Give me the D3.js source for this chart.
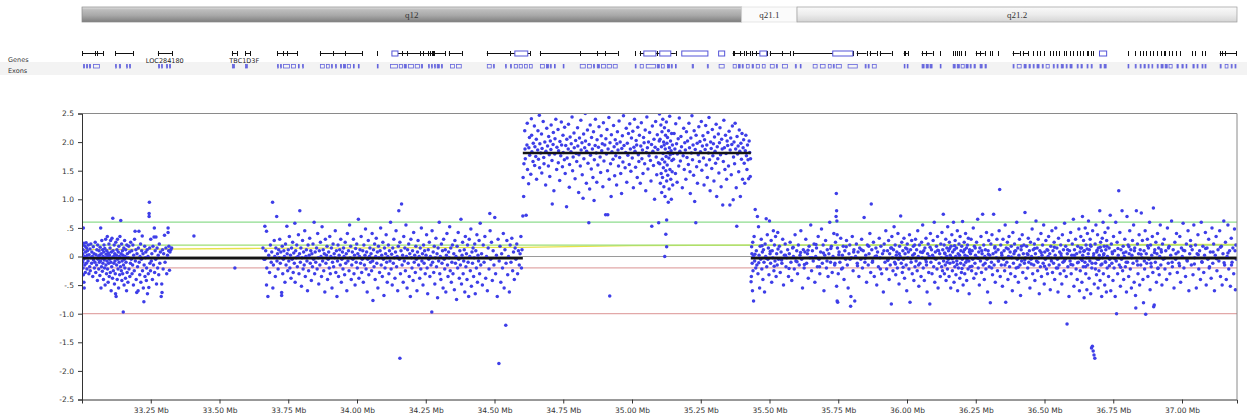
<!DOCTYPE html>
<html><head><meta charset="utf-8">
<script src="https://cdn.jsdelivr.net/npm/d3@7"></script>
<style>
html,body{margin:0;padding:0;background:#fff;}
svg{display:block;}
</style></head><body>
<svg id="chart" width="1247" height="417"></svg>
<script>
// ---- genomic window (Mb) ----
const windowStartMb = 33.0;
const windowEndMb = 37.2;

// ---- cytoband ideogram ----
const bandNames = ["q12", "q21.1", "q21.2"];
const bandStarts = [33.0, 35.399, 35.600];
const bandEnds = [35.399, 35.600, 37.2];

// ---- gene track (Mb) ----
const geneSpans = [[33.000,33.076],[33.120,33.185],[33.276,33.327],[33.545,33.563],[33.593,33.611],[33.709,33.782],[33.865,33.912],[33.912,34.018],[34.127,34.229],[34.229,34.276],[34.280,34.320],[34.334,34.381],[34.472,34.629],[34.665,34.948],[35.028,35.159],[35.366,35.406],[35.414,35.428],[35.435,35.490],[35.501,35.574],[35.585,35.803],[35.817,35.853],[35.864,35.890],[35.901,35.944],[35.988,36.003],[36.053,36.093],[36.250,36.282],[36.384,36.410],[36.421,36.440],[37.137,37.198]];
const geneMarks = [33.047,33.055,33.731,33.745,33.956,34.072,34.163,34.181,34.240,34.258,34.265,34.272,34.556,34.630,34.665,34.810,34.872,34.901,35.010,35.090,35.370,35.392,35.450,35.545,35.992,36.068,36.119,36.166,36.173,36.181,36.188,36.195,36.210,36.264,36.301,36.308,36.330,36.457,36.471,36.482,36.497,36.519,36.530,36.541,36.551,36.570,36.580,36.591,36.602,36.617,36.628,36.639,36.653,36.660,36.668,36.675,36.802,36.828,36.846,36.860,36.868,36.882,36.893,36.908,36.922,36.933,36.940,36.951,36.962,36.980,36.991,37.038,37.046,37.071,37.082,37.144,37.155];
const geneBoxes = [[34.127,34.149],[34.574,34.621],[35.043,35.087],[35.101,35.141],[35.181,35.276],[35.315,35.337],[35.465,35.490],[35.730,35.803],[36.700,36.726]];
const geneLabels = [{name:"LOC284180", at:33.301}, {name:"TBC1D3F", at:33.590}];

// ---- exon track (Mb) ----
const exonSpans = [[33.004,33.011],[33.015,33.022],[33.025,33.033],[33.040,33.065],[33.120,33.124],[33.134,33.142],[33.160,33.164],[33.171,33.178],[33.276,33.284],[33.287,33.294],[33.305,33.313],[33.316,33.324],[33.545,33.556],[33.593,33.603],[33.709,33.712],[33.720,33.723],[33.731,33.756],[33.760,33.778],[33.785,33.789],[33.800,33.803],[33.865,33.883],[33.887,33.901],[33.905,33.912],[33.920,33.923],[33.938,33.945],[33.949,33.960],[33.963,33.978],[33.985,33.989],[34.003,34.007],[34.072,34.076],[34.120,34.149],[34.152,34.167],[34.170,34.181],[34.185,34.207],[34.210,34.229],[34.232,34.240],[34.258,34.261],[34.269,34.272],[34.280,34.283],[34.290,34.301],[34.305,34.312],[34.338,34.356],[34.360,34.381],[34.472,34.490],[34.494,34.501],[34.538,34.541],[34.556,34.563],[34.570,34.585],[34.588,34.603],[34.607,34.621],[34.625,34.639],[34.665,34.683],[34.687,34.698],[34.701,34.708],[34.716,34.719],[34.748,34.752],[34.810,34.832],[34.836,34.854],[34.858,34.865],[34.872,34.883],[34.887,34.905],[34.908,34.927],[34.930,34.948],[35.010,35.014],[35.028,35.043],[35.050,35.087],[35.090,35.101],[35.105,35.119],[35.127,35.138],[35.141,35.148],[35.156,35.159],[35.217,35.225],[35.272,35.279],[35.315,35.337],[35.366,35.381],[35.385,35.395],[35.399,35.406],[35.414,35.428],[35.435,35.443],[35.450,35.465],[35.472,35.486],[35.501,35.519],[35.523,35.530],[35.545,35.567],[35.592,35.599],[35.610,35.614],[35.657,35.675],[35.683,35.704],[35.712,35.726],[35.730,35.737],[35.741,35.763],[35.784,35.821],[35.846,35.853],[35.857,35.864],[35.872,35.890],[35.988,35.992],[35.999,36.003],[36.053,36.064],[36.068,36.079],[36.082,36.093],[36.119,36.122],[36.166,36.177],[36.181,36.192],[36.195,36.210],[36.213,36.224],[36.228,36.235],[36.242,36.250],[36.264,36.275],[36.282,36.290],[36.384,36.391],[36.399,36.417],[36.424,36.435],[36.442,36.450],[36.457,36.464],[36.471,36.482],[36.490,36.497],[36.504,36.519],[36.530,36.537],[36.544,36.551],[36.559,36.570],[36.577,36.584],[36.591,36.602],[36.617,36.624],[36.631,36.639],[36.653,36.660],[36.668,36.675],[36.700,36.708],[36.715,36.726],[36.802,36.806],[36.828,36.835],[36.846,36.853],[36.860,36.868],[36.875,36.882],[36.889,36.893],[36.908,36.915],[36.922,36.933],[36.937,36.948],[36.951,36.966],[36.980,36.988],[36.998,37.006],[37.013,37.017],[37.038,37.046],[37.053,37.060],[37.071,37.078],[37.082,37.089],[37.137,37.144],[37.155,37.169],[37.177,37.184],[37.191,37.198]];

// ---- axis ticks ----
const yTickValues = [2.5, 2.0, 1.5, 1.0, 0.5, 0, -0.5, -1.0, -1.5, -2.0, -2.5];
const yTickLabels = ["2.5", "2.0", "1.5", "1.0", ".5", "0", "-.5", "-1.0", "-1.5", "-2.0", "-2.5"];
const xTickValues = [33.25, 33.5, 33.75, 34.0, 34.25, 34.5, 34.75, 35.0, 35.25, 35.5, 35.75, 36.0, 36.25, 36.5, 36.75, 37.0];
const xTickLabels = ["33.25 Mb","33.50 Mb","33.75 Mb","34.00 Mb","34.25 Mb","34.50 Mb","34.75 Mb","35.00 Mb","35.25 Mb","35.50 Mb","35.75 Mb","36.00 Mb","36.25 Mb","36.50 Mb","36.75 Mb","37.00 Mb"];

// ---- reference / threshold lines (log2 ratio) ----
const gainOuter = 0.6;
const gainInner = 0.2;
const lossInner = -0.2;
const lossOuter = -1.0;
const trendMb = [33.0, 33.6, 34.6, 35.0, 35.45, 37.2];
const trendVal = [0.12, 0.14, 0.16, 0.19, 0.2, 0.21];

// ---- segment calls: [start Mb, end Mb, mean log2 ratio] ----
const segStarts = [33.0, 34.603, 35.432];
const segEnds = [34.603, 35.432, 37.2];
const segMeans = [-0.03, 1.81, -0.03];

// ---- probes: [kb from window start, log2 ratio] ----
const probesA = [[2,.2],[3,.05],[3,-.1],[4,-.2],[4,.12],[5,-.32],[5,.5],[6,-.05],[7,.23],[7,-.45],[8,-.55],[9,.0],[10,-.15],[11,.18],[12,-.28],[13,.08],[14,-.02],[15,.24],[16,-.12],[17,.15],[18,-.22],[19,.02],[20,.1],
[22,-.08],[23,.2],[25,-.3],[26,.03],[28,-.18],[29,.13],[30,-.25],[32,.22],[33,-.02],[35,-.12],[36,.08],[38,.0],[39,-.35],[41,.17],[42,-.06],[44,.05],[45,-.2],[47,-.1],[48,.25],[50,-.28],[51,.03],[53,-.15],[54,.12],[56,-.42],[57,.2],[58,-.05],[60,.0],
[61,-.22],[62,.1],[63,-.1],[64,.02],[65,-.33],[66,.16],[67,-.08],[68,.5],[69,-.55],[70,.05],[71,-.18],[72,.28],[73,-.03],[74,-.26],[75,.12],[76,-.12],[77,.0],[78,-.4],[79,.08],[80,.2],[81,-.06],[82,-.2],[83,.14],[84,-.5],[85,-.02],[86,.3],[87,-.15],[88,.04],[89,-.3],[90,.1],[91,-.08],[92,.35],[93,-.22],[94,.0],[95,-.45],[96,.06],[97,-.12],[98,.22],[99,-.35],[100,.02],[101,-.05],[102,.15],[103,-.28],[104,.28],[105,-.1],[106,-.6],[107,.08],[108,-.18],[109,.32],[110,-.02],[111,-.38],[112,.67],[113,.1],[114,-.25],[115,.0],[116,-.12],[117,.2],[118,-.48],[119,.05],[120,-.08],
[121,-.3],[122,-.65],[123,.25],[124,-.7],[125,.02],[126,-.15],[127,.12],[128,-.4],[129,.3],[130,-.05],[131,-.22],[132,.08],[133,-.55],[134,.18],[135,-.1],[136,.0],[137,-.32],[138,.35],[139,-.02],[140,-.18],[141,.63],[142,.05],[143,-.25],[144,.22],[145,-.42],[146,-.08],[147,.1],[148,-.3],[149,.02],[150,-.97],[151,-.15],[152,.15],[153,-.5],[154,-.05],[155,.28],[156,-.2],[157,.0],[158,-.38],[159,.12],[160,-.1],[162,-.6],[163,.2],[164,-.28],[165,.05],[167,-.45],[168,-.02],[170,.18],[171,-.22],[173,.08],[174,-.35],[176,-.12],[177,.25],[179,-.05],
[181,.1],[182,-.3],[184,-.15],[185,.2],[187,-.5],[188,.02],[190,-.25],[191,.3],[193,.44],[194,-.08],[196,.12],[197,-.4],[199,-.63],[200,.05],[202,-.18],[204,-.6],[205,.15],[207,.44],[208,-.1],[210,-.32],[211,.0],[213,.22],[214,-.45],[216,-.05],[217,.1],[219,.36],[220,-.25],[222,.05],[223,-.55],[225,-.79],[226,-.15],[228,.18],[229,-.35],[231,-.02],[232,.08],[234,-.42],[235,-.2],[237,.12],[238,-.65],[240,.0],[241,-.3],[243,-.54],[244,.75],[244,.7],[245,.95],[246,.15],[247,-.12],[249,-.25],[250,.3],
[252,-.08],[254,.05],[256,-.4],[258,.18],[260,-.15],[262,.34],[263,.5],[264,-.28],[266,.1],[268,-.05],[269,.34],[271,-.48],[273,.15],[275,-.2],[277,.02],[279,-.32],[281,.22],[283,-.12],[285,.08],[288,-.7],[290,-.48],[291,-.63],[293,.12],[295,-.22],[297,.05],[300,.37],[302,-.1],[305,.15],[308,-.3],[311,.02],[313,.5],[313,.42],[315,.1],[316,.18],[318,-.24],[320,.08],[323,.12],[326,.15],
[407,.36],[556,-.2]];

const probesB = [[658,.15],[662,-.05],[665,.53],[665,-.05],[668,.1],[671,.44],[671,-.5],[672,-.2],[676,-.7],[679,.02],[682,-.28],[685,.2],[688,-.1],[690,.08],[693,.95],[694,-.55],[696,-.15],[699,.28],[701,.0],[703,-.35],[705,.15],[708,.7],[709,-.08],[711,.05],[713,-.22],[715,.12],[717,-.02],[719,.3],[721,-.12],[723,.08],[726,-.68],[726,-.63],[728,.18],[730,-.3],[732,-.05],[734,.1],[736,.0],[738,-.45],[740,.22],[742,-.15],[745,.53],[746,.05],[748,-.25],[750,.12],
[752,-.08],[754,.35],[756,-.2],[758,.02],[760,-.38],[762,.15],[764,-.05],[766,.25],[768,-.28],[770,.06],[772,-.12],[774,.58],[775,-.45],[777,.1],[779,-.02],[781,.2],[783,-.18],[785,.0],[787,.38],[789,-.3],[791,.05],[792,.8],[794,-.1],[796,.15],[798,-.52],[800,-.02],[802,.28],[804,-.22],[806,.08],[808,-.15],[810,.45],[812,-.35],[814,.0],[816,.12],[818,-.08],[820,-.6],[822,.2],[824,-.25],[826,.02],[828,.32],[830,-.12],[832,.1],[834,-.42],[836,.05],[838,-.18],[840,.22],[842,-.05],[844,.6],[846,-.3],[848,.08],[850,-.1],
[853,.15],[855,-.22],[857,.4],[859,-.02],[861,-.48],[863,.1],[865,-.15],[867,.25],[869,.0],[871,-.35],[873,.52],[875,-.08],[877,.12],[879,-.25],[881,.05],[883,-.62],[885,.3],[887,-.12],[889,.02],[891,.18],[893,-.4],[895,-.05],[897,.08],[899,-.2],[901,.35],[903,-.3],[905,.0],[907,.15],[909,-.55],[911,-.1],[913,.22],[915,-.18],[917,.05],[919,-.02],[921,.45],[923,-.28],[925,.1],[927,-.7],[929,-.08],[931,.2],[933,-.35],[935,.02],[937,.12],[939,-.15],[941,.3],[943,-.45],[945,-.05],[947,.08],[949,-.22],
[951,.15],[953,.0],[955,-.32],[957,.25],[959,-.12],[961,.05],[963,-.6],[965,.4],[967,-.08],[969,.1],[971,-.25],[973,.55],[975,-.02],[977,.18],[979,-.4],[981,-.15],[983,.08],[985,-.05],[987,.3],[989,-.3],[991,.02],[993,-.5],[995,.14],[997,-.1],[999,.22],[1001,-.2],[1003,.05],[1005,.65],[1007,-.38],[1009,.0],[1011,.12],[1013,-.12],[1015,.35],[1017,-.28],[1019,-.05],[1021,.1],[1023,-.45],[1025,.2],[1027,-.15],[1029,.02],[1031,.48],[1033,-.22],[1035,.08],[1037,-.62],[1039,-.05],[1041,.28],[1043,-.32],[1045,.0],[1047,.15],[1049,-.1],
[1051,.05],[1053,-.25],[1055,.4],[1057,-.08],[1058,-.77],[1060,.12],[1062,-.18],[1064,.22],[1066,-.4],[1068,.0],[1070,.32],[1072,-.12],[1074,.08],[1076,-.55],[1078,.18],[1080,-.02],[1082,-.28],[1084,.1],[1086,.5],[1088,-.15],[1090,.02],[1092,-.35],[1094,.25],[1096,-.05],[1098,-.68],[1100,.15],[1102,-.2],[1104,.05],[1106,.38],[1108,-.1],[1110,-.45],[1112,.0],[1114,.2],[1116,-.3],[1118,.1],[1120,-.08],[1122,.6],[1124,-.22],[1126,.04],[1128,-.5],[1130,.15],[1132,-.12],[1134,.3],[1136,-.02],[1138,-.38],[1140,.08],[1142,.45],[1144,-.18],[1146,.0],[1148,-.6],[1150,.18],[1152,.8],[1156,-1.78],
[1154,-.05],[1156,.25],[1158,-.3],[1160,.1],[1162,.92],[1164,-.15],[1166,.02],[1168,-.45],[1170,.35],[1172,-.08],[1174,.15],[1176,-.25],[1178,.55],[1180,.0],[1182,-.55],[1184,.12],[1186,-.12],[1188,.22],[1190,-.35],[1192,.05],[1194,-.7],[1196,.3],[1198,-.02],[1200,-.2],[1202,.1],[1204,-.42],[1206,.42],[1208,-.1],[1210,.02],[1212,-.28],[1214,.18],[1216,-.05],[1218,-.6],[1220,.08],[1222,.28],[1224,-.15],[1226,.0],[1228,-.38],[1230,.15],[1232,-.22],[1234,.5],[1236,-.08],[1238,.05],[1240,-.5],[1242,.2],[1244,-.12],[1246,.1],[1248,-.3],
[1251,.02],[1253,.38],[1255,-.2],[1257,-.65],[1259,.12],[1261,-.05],[1263,.25],[1265,-.35],[1267,.0],[1269,-.15],[1272,-.97],[1273,.45],[1275,-.1],[1277,.08],[1279,-.28],[1281,.18],[1283,-.48],[1285,-.02],[1287,.32],[1289,-.18],[1291,.05],[1293,-.72],[1295,.15],[1297,-.08],[1299,.6],[1301,-.3],[1303,.0],[1305,-.4],[1307,.22],[1309,-.12],[1311,.1],[1313,-.55],[1315,.3],[1317,-.05],[1319,-.22],[1321,.12],[1323,-.62],[1325,.02],[1327,.4],[1329,-.15],[1331,-.35],[1333,.08],[1335,-.02],[1337,.52],[1339,-.25],[1341,.15],[1343,-.45],[1345,-.1],[1347,.2],[1349,-.3],
[1352,.05],[1354,-.58],[1356,.28],[1358,-.12],[1360,.0],[1362,-.75],[1364,.18],[1366,-.2],[1368,.42],[1370,-.05],[1372,-.38],[1374,.1],[1376,-.15],[1378,.65],[1380,-.48],[1382,.02],[1384,.25],[1386,-.3],[1388,-.08],[1390,.12],[1392,-.62],[1394,.35],[1396,-.18],[1398,.05],[1400,-.4],[1402,.2],[1404,-.1],[1406,-.7],[1408,.3],[1410,.0],[1412,-.25],[1414,.48],[1416,-.52],[1418,.08],[1420,-.12],[1422,.15],[1424,-.35],[1426,-.02],[1428,.22],[1430,-.65],[1432,.1],[1434,-.2],[1436,.38],[1438,-.45],[1440,.02],[1442,-.08],[1444,.28],[1446,-.3],[1448,.58],[1450,-.15],
[1453,.05],[1456,-.5],[1459,.2],[1462,-.1],[1465,.35],[1468,-.38],[1471,.0],[1474,-.6],[1477,.15],[1480,-.22],[1483,.75],[1484,.45],[1486,-.05],[1489,.25],[1492,-.42],[1495,.1],[1498,-.15],[1501,.68],[1504,-.3],[1507,.02],[1510,-.7],[1513,.3],[1516,-1.87],[1517,-.08],[1520,.18],[1523,-.45],[1526,.05],[1529,-.2],[1532,.4],[1535,-.55],[1538,.12],[1541,-1.2],[1542,-.12],[1545,.28],[1548,-.32],[1551,.0],[1554,-.62],[1557,.2],[1560,-.1],[1563,.32],[1566,-.25],[1569,.08],[1572,-.4],[1575,.15],[1578,-.05],[1581,.22],[1584,-.3],[1587,.1],[1590,-.15],[1593,.05],[1596,.35],[1598,-.2],[1600,.12],[1603,.71]];

const probesC = [[1604,1.38],[1606,1.05],[1607,1.62],[1610,2.2],[1611,1.88],[1612,1.71],[1615,.72],[1618,1.95],[1619,2.33],[1620,1.52],[1624,1.27],[1625,1.9],[1627,2.08],[1628,1.77],[1632,1.44],[1634,2.41],[1635,2.12],[1636,1.83],[1640,1.66],[1641,1.98],[1645,2.28],[1646,1.59],[1647,1.92],[1650,1.75],[1652,2.05],[1653,1.35],[1657,1.86],[1658,2.2],[1660,1.7],[1663,2.47],[1664,1.55],[1665,1.97],[1668,1.81],[1671,2.14],[1672,1.46],[1673,1.89],[1677,2.36],[1679,1.73],[1680,1.62],[1683,2.0],[1686,1.25],[1687,1.84],[1689,2.56],[1690,2.24],[1693,1.93],[1696,1.58],[1697,2.1],[1699,1.78],
[1701,1.4],[1703,2.02],[1705,1.87],[1706,2.3],[1709,1.68],[1710,.92],[1713,1.96],[1714,2.17],[1716,1.15],[1719,1.79],[1720,2.06],[1723,2.4],[1725,2.55],[1726,1.52],[1727,1.91],[1731,2.22],[1732,1.64],[1733,1.85],[1737,1.33],[1738,2.01],[1741,1.76],[1743,2.35],[1744,1.95],[1747,1.57],[1749,2.12],[1750,1.82],[1754,1.69],[1755,2.26],[1757,1.45],[1759,1.94],[1762,.87],[1763,2.05],[1764,1.72],[1768,1.88],[1769,2.31],[1772,1.21],[1773,1.61],[1775,2.09],[1778,1.83],[1779,1.97],[1782,2.44],[1784,1.5],[1786,1.74],[1789,2.16],[1790,1.9],[1793,1.36],[1795,2.03],[1797,1.8],[1799,1.66],
[1802,2.25],[1803,1.93],[1806,1.12],[1807,1.78],[1809,2.07],[1812,1.58],[1814,2.38],[1815,1.86],[1818,1.99],[1819,1.43],[1822,1.02],[1824,2.14],[1825,1.71],[1828,1.9],[1830,2.5],[1831,2.02],[1834,1.28],[1835,1.84],[1838,2.21],[1840,1.63],[1843,.59],[1844,1.96],[1846,1.18],[1848,2.3],[1849,1.77],[1852,1.53],[1853,2.08],[1856,1.88],[1858,1.38],[1860,2.18],[1862,.98],[1863,1.69],[1866,1.94],[1867,2.4],[1870,1.81],[1872,1.3],[1873,2.04],[1876,1.6],[1878,1.91],[1880,2.27],[1883,2.58],[1884,1.74],[1886,1.47],[1888,2.11],[1890,1.85],[1892,1.97],[1894,1.22],[1896,2.34],[1898,1.67],
[1901,1.95],[1904,.73],[1905,2.06],[1907,1.79],[1909,2.22],[1911,1.5],[1912,.73],[1913,1.88],[1916,2.43],[1917,1.35],[1919,-.69],[1920,1.99],[1922,1.62],[1924,1.05],[1925,2.13],[1927,1.83],[1930,2.55],[1931,1.7],[1933,2.29],[1935,1.92],[1937,1.41],[1939,2.04],[1941,1.76],[1944,1.25],[1945,1.97],[1947,2.18],[1949,1.86],[1951,1.58],[1953,2.37],[1955,1.73],[1957,2.0],[1959,1.45],[1962,1.1],[1963,1.89],[1965,2.11],[1967,1.65],[1969,2.46],[1971,1.94],[1974,2.56],[1975,1.55],[1977,1.82],[1979,2.24],[1981,1.3],[1983,1.98],[1985,1.77],[1987,2.15],[1990,1.61],[1992,2.32],[1994,1.88],[1996,1.49],[1998,2.07],
[2001,1.72],[2003,2.19],[2005,1.2],[2007,1.91],[2009,2.4],[2011,1.84],[2013,1.56],[2015,2.03],[2017,1.95],[2019,1.38],[2021,2.26],[2023,1.78],[2025,1.66],[2027,2.12],[2029,2.55],[2030,1.28],[2032,1.93],[2034,2.34],[2036,1.71],[2038,1.86],[2040,1.45],[2042,2.08],[2044,1.99],[2046,1.62],[2048,2.21],[2050,1.15],[2052,1.82],[2054,2.44],[2056,1.9],[2058,1.53],[2060,2.0],[2062,1.76],[2064,2.17],[2065,2.57],[2067,1.68],[2069,1.32],[2071,1.96],[2072,.53],[2074,2.28],[2076,1.84],[2078,1.59],[2080,2.05],[2082,1.0],[2084,1.91],[2086,2.36],[2088,1.74],[2090,1.43],[2092,2.13],[2094,1.87],[2096,1.64],[2097,.59],[2099,2.02],
[2100,2.49],[2101,1.62],[2102,2.05],[2103,1.28],[2104,2.56],[2105,2.3],[2106,1.45],[2107,1.92],[2108,1.12],[2109,2.18],[2110,1.7],[2111,1.38],[2112,2.4],[2113,1.8],[2114,1.55],[2115,2.0],[2116,1.22],[2117,1.95],[2118,2.25],[2119,.0],[2119,1.65],[2120,1.05],[2121,1.88],[2122,2.12],[2123,.39],[2123,1.5],[2124,1.75],[2125,2.35],[2126,.17],[2126,.64],[2126,1.32],[2127,1.98],[2128,1.6],[2129,2.08],[2130,1.42],[2131,1.82],[2132,.95],[2133,2.2],[2134,1.72],[2135,1.18],[2136,1.9],[2137,2.45],[2138,1.52],[2139,1.78],[2140,2.02],[2141,1.35],[2142,1.85],[2143,1.0],[2144,2.15],[2145,1.68],[2146,1.48],[2147,1.95],[2148,1.25],[2149,1.8],
[2151,1.7],[2153,2.15],[2156,1.88],[2158,1.45],[2159,2.32],[2162,1.97],[2164,1.3],[2165,1.79],[2168,2.06],[2170,1.58],[2172,2.42],[2174,1.84],[2176,1.67],[2178,2.1],[2180,1.92],[2183,1.2],[2185,2.55],[2186,1.76],[2188,2.24],[2190,1.52],[2192,1.99],[2194,1.86],[2196,1.35],[2198,2.18],[2200,1.73],[2202,2.02],[2205,1.61],[2207,2.33],[2209,1.9],[2211,1.48],[2212,1.1],[2214,2.07],[2216,1.81],[2218,2.46],[2220,1.69],[2222,1.95],[2224,1.42],[2226,2.2],[2228,.96],[2230,1.87],[2232,.59],[2233,2.12],[2235,1.57],[2237,1.98],[2238,1.28],[2239,2.56],[2241,1.78],[2243,2.27],[2245,1.66],[2247,2.01],[2249,1.83],
[2252,2.36],[2254,1.51],[2256,1.93],[2258,2.11],[2260,1.72],[2262,1.25],[2264,2.04],[2266,1.87],[2268,2.29],[2270,1.6],[2272,1.95],[2274,1.38],[2276,2.17],[2278,1.81],[2280,2.43],[2282,1.69],[2284,1.15],[2286,2.0],[2288,1.89],[2290,1.54],[2292,2.22],[2294,1.76],[2296,1.97],[2298,1.32],[2300,2.09],[2302,1.84],[2304,1.63],[2306,2.31],[2308,1.05],[2310,1.92],[2312,1.71],[2314,2.14],[2316,1.46],[2318,1.99],[2320,2.25],[2322,1.78],[2324,1.22],[2326,2.05],[2328,1.88],[2330,.9],[2332,1.66],[2334,2.38],[2336,1.9],[2338,1.52],[2340,2.12],[2342,1.8],[2344,1.35],[2346,2.02],[2348,1.94],
[2351,1.58],[2353,2.19],[2356,.9],[2357,1.86],[2359,2.07],[2361,1.43],[2363,1.96],[2365,2.28],[2368,.99],[2369,1.74],[2371,2.0],[2373,1.62],[2375,2.33],[2377,1.88],[2379,1.2],[2381,.53],[2382,2.1],[2384,1.79],[2386,1.93],[2388,1.48],[2390,2.21],[2392,1.84],[2394,1.05],[2396,1.98],[2398,1.7],[2400,2.15],[2402,1.35],[2404,1.9],[2406,2.04],[2408,1.63],[2410,1.28],[2412,1.85],[2414,2.12],[2416,1.76],[2418,1.52],[2420,1.95],[2422,1.69],[2424,1.36],[2426,2.02],[2428,1.82],[2430,1.4],[2431,1.71]];

const probesD = [[2433,-.44],[2434,-.35],[2435,.17],[2436,.05],[2437,-.12],[2438,-.6],[2439,.25],[2440,-.25],[2441,.0],[2442,-.78],[2444,.35],[2446,-.08],[2448,.82],[2450,-.2],[2452,.1],[2454,-.15],[2456,.7],[2458,-.3],[2460,.52],[2462,.02],[2464,-.55],[2466,.18],[2468,-.05],[2470,.3],[2472,-.22],[2474,.08],[2476,-.4],[2478,.12],[2480,-.1],[2482,-.62],[2484,.22],[2486,.0],[2488,.66],[2490,-.18],[2492,.38],[2494,-.05],[2496,.15],[2498,-.32],[2500,.62],[2502,.05],[2504,-.12],[2506,.28],[2508,-.45],[2510,.1],[2512,-.02],[2514,.45],[2516,-.25],[2518,.2],[2520,-.08],[2522,.35],[2524,-.35],[2526,.05],[2528,-.15],[2530,.42],
[2533,-.05],[2536,.18],[2539,-.28],[2542,.08],[2545,-.12],[2548,.3],[2551,-.5],[2554,.02],[2557,.22],[2560,-.18],[2563,-.02],[2566,.12],[2569,-.35],[2572,.05],[2575,.25],[2578,-.1],[2581,-.42],[2584,.15],[2587,.0],[2590,-.22],[2593,.38],[2596,-.08],[2599,.1],[2602,-.3],[2605,.2],[2608,-.15],[2611,.02],[2614,.45],[2617,-.05],[2620,-.55],[2623,.12],[2626,-.2],[2629,.08],
[2632,.3],[2635,-.12],[2638,.05],[2641,-.38],[2644,.18],[2647,-.02],[2650,.55],[2653,-.25],[2656,.1],[2659,-.08],[2662,.22],[2665,-.45],[2668,.0],[2671,.15],[2674,-.18],[2677,.35],[2680,-.05],[2683,-.3],[2686,.08],[2689,.48],[2692,-.12],[2695,.2],[2698,-.6],[2701,.02],[2704,.28],[2707,-.2],[2710,.12],[2713,-.35],[2716,.05],[2719,.6],[2722,-.1],[2725,.18],[2728,-.28],
[2731,.0],[2734,.4],[2737,-.15],[2740,.25],[2742,.7],[2743,1.1],[2744,.8],[2744,-.52],[2745,.62],[2746,.38],[2746,-.78],[2747,.15],[2748,-.8],[2750,-.3],[2753,.08],[2756,-.1],[2759,.32],[2762,-.22],[2765,.02],[2768,.18],[2771,-.4],[2774,.1],[2777,-.05],[2780,.28],[2783,-.15],[2786,-.55],[2789,.05],[2792,.2],[2795,-.87],[2796,-.7],[2798,-.02],[2801,.35],[2804,-.25],[2807,.12],[2810,-.78],[2813,.0],[2816,.22],[2819,-.12],[2822,.08],[2825,-.35],[2828,.15],
[2832,-.05],[2835,.3],[2838,-.2],[2841,.1],[2844,.68],[2847,-.1],[2850,.02],[2853,-.45],[2856,.2],[2859,-.15],[2862,.05],[2865,.4],[2868,-.28],[2870,.92],[2872,.12],[2875,-.08],[2878,.25],[2881,-.35],[2884,.0],[2887,.15],[2890,-.5],[2893,.08],[2896,-.18],[2899,.32],[2902,-.02],[2905,.18],[2908,-.3],[2911,.05],[2914,-.62],[2917,.22],[2920,-.1],[2923,.45],[2926,-.22],[2929,.1],
[2931,-.05],[2933,.28],[2935,-.4],[2937,.05],[2939,-.15],[2941,.15],[2943,-.83],[2945,.35],[2947,-.02],[2949,-.25],[2951,.12],[2953,.52],[2955,-.1],[2957,.2],[2959,-.32],[2961,.02],[2963,.08],[2965,-.2],[2967,.4],[2969,-.05],[2971,-.48],[2973,.18],[2975,.0],[2977,.71],[2979,-.12],[2981,.25],[2983,-.28],[2985,.1],[2987,-.05],[2989,.32],[2991,-.38],[2993,.05],[2995,.15],[2997,-.15],[2999,-.6],[3001,.22],[3003,-.02],[3005,.08],[3007,-.22],[3009,.38],[3011,-.8],[3013,.12],[3015,-.1],[3017,.28],[3019,-.3],[3021,.02],[3023,.18],[3025,-.42],[3027,.05],[3029,-.18],
[3031,.3],[3033,-.08],[3035,.12],[3037,-.25],[3039,.45],[3041,.0],[3043,-.52],[3045,.2],[3047,-.12],[3049,.08],[3051,-.35],[3053,.25],[3055,-.02],[3057,.55],[3059,-.2],[3061,.1],[3063,-.42],[3065,.15],[3067,-.05],[3069,.32],[3071,-.15],[3073,-.62],[3075,.05],[3077,.22],[3079,-.28],[3081,.0],[3083,-.83],[3085,.4],[3087,-.1],[3089,.12],[3091,-.3],[3093,.02],[3095,.28],[3097,-.18],[3099,.6],[3101,-.45],[3103,.08],[3105,-.05],[3107,.18],[3109,-.22],[3111,.35],[3113,-.55],[3115,.1],[3117,-.12],[3119,.05],[3121,-.35],[3123,.22],[3125,-.02],[3127,.42],[3129,-.25],
[3130,.12],[3132,.74],[3133,-.08],[3135,.2],[3136,-.3],[3138,.05],[3139,-.15],[3141,.3],[3142,-.42],[3144,.0],[3145,.15],[3147,-.22],[3148,.52],[3150,-.05],[3151,.1],[3153,-.35],[3154,.25],[3156,-.12],[3157,.02],[3159,-.55],[3160,.18],[3162,-.02],[3163,.38],[3165,-.25],[3166,.08],[3168,-.1],[3169,.6],[3171,-.45],[3172,.12],[3174,-.18],[3175,.28],[3177,.0],[3178,-.32],[3180,.15],[3181,-.08],[3183,.45],[3184,-.6],[3186,.05],[3187,-.2],[3189,.22],[3190,-.02],[3192,-.38],[3193,.35],[3195,-.12],[3196,.1],[3198,-.28],[3199,.18],[3201,-.05],[3202,.61],[3204,-.5],[3205,.08],[3207,-.15],[3208,.25],[3210,-.3],[3211,.02],[3213,.4],[3214,-.1],[3216,.15],[3217,-.42],[3219,.0],[3220,.2],[3222,-.22],[3223,.32],[3225,-.08],[3226,-.65],[3228,.12],[3229,-.18],
[3231,.05],[3233,.3],[3235,-.25],[3237,.1],[3239,-.05],[3241,.5],[3243,-.38],[3245,.18],[3247,-.12],[3249,.02],[3251,-.3],[3253,.25],[3255,-.02],[3257,.65],[3259,-.2],[3261,.08],[3263,-.5],[3265,.15],[3267,-.08],[3269,.35],[3271,-.28],[3273,.05],[3275,.74],[3277,-.15],[3279,.2],[3281,-.4],[3283,.0],[3285,.12],[3287,-.22],[3289,.42],[3291,-.05],[3293,-.62],[3295,.1],[3297,.28],[3299,-.18],[3301,.02],[3303,-.81],[3305,.22],[3307,-.1],[3309,.38],[3311,-.32],[3313,.05],[3315,.74],[3317,-.15],[3319,.15],[3321,-.45],[3323,.08],[3325,-.02],[3327,.3],[3329,-.25],
[3331,.12],[3333,-.08],[3335,.45],[3337,1.17],[3339,-.35],[3341,.2],[3343,-.15],[3345,.02],[3347,-.52],[3349,.3],[3351,-.05],[3353,.1],[3355,-.25],[3357,.55],[3359,-.8],[3361,.15],[3363,-.1],[3365,.25],[3367,-.4],[3369,.0],[3371,.35],[3373,-.18],[3375,.08],[3377,-.3],[3379,.18],[3381,-.02],[3383,-.6],[3385,.42],[3387,-.12],[3389,.05],[3391,.22],[3393,-.35],[3395,.1],[3397,-.2],[3399,.6],[3401,-.05],[3403,.15],[3405,-.45],[3407,.02],[3409,.3],[3411,-.15],[3413,-.68],[3415,.12],[3417,-.08],[3419,.38],[3421,-.28],[3423,.05],[3425,.2],[3427,-.12],[3429,.77],
[3431,-.02],[3433,-.38],[3435,.18],[3437,.05],[3439,-.2],[3441,.32],[3443,-.1],[3445,.1],[3447,-.55],[3449,.25],[3451,-.05],[3453,.0],[3455,.48],[3457,-.3],[3459,.12],[3461,-.15],[3463,.22],[3465,-.42],[3467,.05],[3469,.62],[3471,-.08],[3473,.15],[3475,-.25],[3477,.3],[3479,-.02],[3481,-.65],[3483,.1],[3485,-.18],[3487,.4],[3489,-.35],[3491,.02],[3493,.2],[3495,-.12],[3497,.55],[3499,-.48],[3501,.08],[3503,-.05],[3505,.28],[3507,-.22],[3509,.12],[3511,-.3],[3513,.0],[3515,.35],[3517,-.15],[3519,.05],[3521,-.58],[3523,.18],[3525,-.08],[3527,.45],[3529,-.28],
[3531,.1],[3533,-.12],[3535,.25],[3537,-.4],[3539,.02],[3541,.5],[3543,-.2],[3545,.15],[3547,-.05],[3549,-.62],[3551,.32],[3553,-.15],[3555,.08],[3557,-.3],[3559,.2],[3561,.0],[3563,-.48],[3565,.38],[3567,-.1],[3569,.12],[3571,-.25],[3573,.58],[3575,-.05],[3577,.18],[3579,-.35],[3582,-1.18],[3583,.05],[3585,-.18],[3587,.28],[3589,-.7],[3591,.1],[3593,-.08],[3595,.42],[3597,-.3],[3599,.02],[3601,.22],[3603,-.15],[3605,.65],[3607,-.52],[3609,.12],[3611,-.02],[3613,.3],[3615,-.22],[3617,.05],[3619,-.4],[3621,.18],[3623,-.1],[3625,.48],[3627,-.6],[3629,.08],
[3630,-.25],[3632,.35],[3633,-.05],[3635,.15],[3636,-.45],[3638,.7],[3639,.02],[3641,-.18],[3642,.28],[3644,-.72],[3645,.1],[3647,-.1],[3648,.5],[3650,-.3],[3651,.2],[3653,-.02],[3654,-.58],[3656,.4],[3657,-.15],[3659,.05],[3660,.62],[3662,-.38],[3663,.12],[3665,-.08],[3666,.3],[3668,-.65],[3669,.18],[3671,-1.6],[3672,-.2],[3674,-1.57],[3675,.45],[3677,-1.65],[3678,.0],[3680,-1.72],[3681,-.48],[3683,-1.78],[3684,.22],[3686,-.12],[3687,.55],[3689,-.32],[3690,.08],[3692,-.05],[3693,.38],[3695,-.55],[3696,.15],[3698,-.25],[3699,.02],[3701,.8],[3702,-.42],[3704,.25],[3705,-.15],[3707,.1],[3708,-.7],[3710,.32],[3711,-.02],[3713,.6],[3714,-.3],[3716,.05],[3717,.18],[3719,-.5],[3720,.42],[3722,-.1],[3723,.12],[3725,-.62],[3726,.28],[3728,-.2],[3729,.0],
[3731,.5],[3733,-.35],[3735,.15],[3737,-.05],[3739,.72],[3741,-.6],[3743,.22],[3745,-.12],[3747,.05],[3749,-.42],[3751,.35],[3753,-.2],[3755,.1],[3757,-.7],[3759,.6],[3761,-.08],[3762,-1.0],[3764,.25],[3766,-.3],[3768,.02],[3770,1.15],[3772,-.15],[3774,.42],[3776,-.52],[3778,.12],[3780,-.05],[3782,.8],[3784,-.25],[3786,.18],[3788,-.4],[3790,.0],[3792,.3],[3794,-.18],[3796,.08],[3798,-.62],[3800,.7],[3802,-.1],[3804,.2],[3806,-.35],[3808,.05],[3810,.45],[3812,-.22],[3814,.12],[3816,-.55],[3818,.02],[3820,.28],[3822,-.12],[3824,.55],[3826,-.45],[3828,.15],
[3831,-.68],[3832,-.9],[3834,.8],[3836,-.08],[3838,.22],[3840,-.3],[3842,.05],[3844,.38],[3846,-.5],[3848,.12],[3850,-.15],[3852,.76],[3854,-.02],[3856,.28],[3858,-.4],[3860,-.81],[3862,.1],[3864,-.22],[3866,.45],[3868,-1.01],[3870,.05],[3872,-.12],[3874,.3],[3876,-.35],[3878,.15],[3880,-.05],[3882,.6],[3884,-.58],[3886,.2],[3888,-.18],[3890,.02],[3892,.35],[3894,-.28],[3896,.85],[3897,-.88],[3899,-.85],[3901,.12],[3903,-.1],[3905,.25],[3907,-.45],[3909,.05],[3911,.4],[3913,-.2],[3915,.15],[3917,-.32],[3919,.0],[3921,.55],[3923,-.15],[3925,.08],[3927,-.5],[3929,.22],
[3932,-.05],[3935,.3],[3938,-.22],[3941,.1],[3944,-.4],[3947,.5],[3950,-.12],[3953,.18],[3956,-.3],[3959,.02],[3962,.62],[3965,-.18],[3968,.12],[3971,-.55],[3974,.25],[3977,-.05],[3980,.4],[3983,-.28],[3986,.08],[3989,-.12],[3992,.35],[3995,-.45],[3998,.15],[4001,.0],[4004,.58],[4007,-.2],[4010,.1],[4013,-.35],[4016,.22],[4019,-.08],[4022,.45],[4025,-.6],[4028,.05],
[4031,.28],[4034,-.15],[4037,.12],[4040,-.32],[4043,.55],[4046,-.02],[4049,.2],[4052,-.55],[4055,.05],[4058,.38],[4061,-.22],[4064,.1],[4067,-.4],[4070,.6],[4073,-.1],[4076,.18],[4079,-.28],[4082,.02],[4085,.42],[4088,-.5],[4091,.15],[4094,-.05],[4097,.3],[4100,-.18],[4103,.08],[4106,-.38],[4109,.5],[4112,-.12],[4115,.22],[4118,-.6],[4121,.02],[4124,.35],[4127,-.25],
[4131,.12],[4134,-.08],[4137,.45],[4140,-.35],[4143,.18],[4146,-.5],[4149,.05],[4152,.62],[4155,-.15],[4158,.25],[4161,-.4],[4164,.0],[4167,.55],[4170,-.22],[4173,.1],[4176,-.52],[4179,.32],[4182,-.1],[4185,.15],[4188,-.3],[4191,.48],[4194,-.58],[4196,.2],[4198,-.05]];

// probes near the baseline in the distal segment
const probesDcore = [[2447,.04],[2461,-.11],[2473,.19],[2489,-.03],[2503,.09],[2517,-.17],[2531,.13],[2544,-.06],[2558,.02],[2571,-.21],[2586,.16],[2600,-.09],[2613,.07],[2627,-.14],[2640,.11],[2655,-.02],[2669,.21],[2682,-.18],[2696,.06],[2709,-.08],[2723,.14],[2738,-.12],[2752,.03],[2766,-.2],[2779,.17],[2793,-.05],[2806,.08],[2820,-.16],[2834,.12],[2848,-.03],[2861,.18],[2874,-.1],[2889,.01],[2903,-.22],[2916,.1],[2930,-.07],[2944,.15],[2958,-.13],[2972,.05],[2986,-.19],[3000,.13],[3014,-.04],[3028,.2],[3042,-.15],[3056,.07],[3070,-.09],[3084,.16],[3098,-.02],[3112,.11],[3126,-.18],[3137,.06],[3146,-.1],[3155,.14],[3164,-.04],[3173,.19],[3182,-.14],[3191,.02],[3200,-.21],[3209,.12],[3218,-.06],[3227,.08],[3236,-.17],[3248,.15],[3260,-.03],[3272,.1],[3284,-.12],[3296,.04],[3308,-.2],[3320,.17],[3332,-.08],[3344,.06],[3356,-.15],[3368,.13],[3380,-.01],[3392,.09],[3404,-.19],[3416,.18],[3428,-.06],[3440,.03],[3452,-.13],[3464,.14],[3476,-.1],[3488,.07],[3500,-.17],[3512,.11],[3524,-.03],[3536,.16],[3548,-.2],[3560,.05],[3572,-.08],[3584,.12],[3596,-.14],[3608,.02],[3620,-.11],[3631,.15],[3637,-.07],[3643,.09],[3649,-.18],[3655,.13],[3661,-.02],[3667,.2],[3673,-.12],[3679,.05],[3685,-.22],[3691,.11],[3697,-.05],[3703,.16],[3709,-.13],[3715,.03],[3721,-.09],[3727,.18],[3736,-.16],[3746,.08],[3756,-.04],[3767,.14],[3777,-.19],[3787,.06],[3797,-.1],[3807,.17],[3817,-.02],[3827,.1],[3839,-.15],[3851,.04],[3863,-.08],[3875,.19],[3887,-.12],[3900,.07],[3912,-.21],[3924,.12],[3937,-.03],[3951,.15],[3964,-.1],[3978,.05],[3991,-.16],[4005,.11],[4018,-.06],[4032,.18],[4045,-.13],[4059,.03],[4072,-.09],[4086,.14],[4099,-.2],[4113,.08],[4126,-.04],[4140,.16],[4153,-.11],[4167,.06],[4180,-.15],[4193,.1]];

// ---- drawing ----
const svg = d3.select("#chart");
const plot = {left: 82, right: 1237, top: 113.5, bottom: 399.5};
const x = d3.scaleLinear().domain([windowStartMb, windowEndMb]).range([plot.left, plot.right]);
const y = d3.scaleLinear().domain([-2.5, 2.5]).range([plot.bottom, plot.top]);
const uiFont = "DejaVu Sans, Verdana, sans-serif";

const defs = svg.append("defs");
const gDark = defs.append("linearGradient").attr("id", "bandDark").attr("x1", 0).attr("y1", 0).attr("x2", 0).attr("y2", 1);
[["0%", "#e4e4e4"], ["18%", "#bdbdbd"], ["55%", "#a9a9a9"], ["100%", "#7e7e7e"]].forEach(s => gDark.append("stop").attr("offset", s[0]).attr("stop-color", s[1]));
const gLight = defs.append("linearGradient").attr("id", "bandLight").attr("x1", 0).attr("y1", 0).attr("x2", 0).attr("y2", 1);
[["0%", "#fafafa"], ["50%", "#ececec"], ["100%", "#d4d4d4"]].forEach(s => gLight.append("stop").attr("offset", s[0]).attr("stop-color", s[1]));
defs.append("clipPath").attr("id", "plotClip").append("rect")
  .attr("x", plot.left).attr("y", plot.top).attr("width", plot.right - plot.left).attr("height", plot.bottom - plot.top);

// ideogram
const bandFills = ["url(#bandDark)", "#fbfbfb", "url(#bandLight)"];
const bandStrokes = ["#8a8a8a", "#dddddd", "#9a9a9a"];
const ideo = svg.append("g");
bandNames.forEach((name, i) => {
  const x0 = x(bandStarts[i]), x1 = x(bandEnds[i]);
  ideo.append("rect").attr("x", x0).attr("y", 7).attr("width", x1 - x0).attr("height", 15)
    .attr("fill", bandFills[i]).attr("stroke", bandStrokes[i]).attr("stroke-width", 0.7);
  ideo.append("text").attr("x", (x0 + x1) / 2).attr("y", 18).attr("text-anchor", "middle")
    .attr("font-family", "Liberation Serif, serif").attr("font-size", 9).attr("fill", "#333").text(name);
});

// gene and exon tracks
svg.append("rect").attr("x", 0).attr("y", 62).attr("width", 1247).attr("height", 13).attr("fill", "#f3f3f3");
svg.append("text").attr("x", 8).attr("y", 61.5).attr("font-family", uiFont).attr("font-size", 6.5).attr("fill", "#333").text("Genes");
svg.append("text").attr("x", 8).attr("y", 73).attr("font-family", uiFont).attr("font-size", 6.5).attr("fill", "#333").text("Exons");

const geneY = 53;
const gg = svg.append("g").attr("stroke", "#111").attr("stroke-width", 1);
gg.selectAll("line.span").data(geneSpans).join("line")
  .attr("x1", d => x(d[0])).attr("x2", d => x(d[1])).attr("y1", geneY + 0.5).attr("y2", geneY + 0.5);
gg.selectAll("line.endL").data(geneSpans).join("line")
  .attr("x1", d => Math.round(x(d[0])) + 0.5).attr("x2", d => Math.round(x(d[0])) + 0.5).attr("y1", geneY - 2).attr("y2", geneY + 3);
gg.selectAll("line.endR").data(geneSpans).join("line")
  .attr("x1", d => Math.round(x(d[1])) + 0.5).attr("x2", d => Math.round(x(d[1])) + 0.5).attr("y1", geneY - 2).attr("y2", geneY + 3);
gg.selectAll("line.mark").data(geneMarks).join("line")
  .attr("x1", d => Math.round(x(d)) + 0.5).attr("x2", d => Math.round(x(d)) + 0.5).attr("y1", geneY - 2).attr("y2", geneY + 3);
svg.append("g").selectAll("rect").data(geneBoxes).join("rect")
  .attr("x", d => x(d[0])).attr("y", geneY - 2).attr("width", d => x(d[1]) - x(d[0])).attr("height", 5)
  .attr("fill", "#fff").attr("stroke", "#5454d8").attr("stroke-width", 1);
svg.append("g").selectAll("text").data(geneLabels).join("text")
  .attr("x", d => x(d.at)).attr("y", 63).attr("text-anchor", "middle")
  .attr("font-family", uiFont).attr("font-size", 6.5).attr("fill", "#222").text(d => d.name);

svg.append("g").selectAll("rect").data(exonSpans).join("rect")
  .attr("x", d => x(d[0]) + 0.5).attr("y", 64.5)
  .attr("width", d => Math.max(0.8, x(d[1]) - x(d[0]) - 1)).attr("height", 3.5)
  .attr("fill", d => (x(d[1]) - x(d[0]) > 3.5 ? "none" : "#6a6ae0"))
  .attr("stroke", "#6464dc").attr("stroke-width", 0.8);

// threshold lines
const lines = svg.append("g").attr("clip-path", "url(#plotClip)");
const hline = (v, color, w) => lines.append("line").attr("x1", plot.left).attr("x2", plot.right)
  .attr("y1", y(v)).attr("y2", y(v)).attr("stroke", color).attr("stroke-width", w);
hline(gainOuter, "#8edc8e", 1.2);
hline(0, "#9a9a9a", 1.2);
hline(lossInner, "#e2a8a8", 1.2);
hline(lossOuter, "#e2a8a8", 1.2);
lines.append("path").datum(trendMb.map((m, i) => [m, trendVal[i]]))
  .attr("d", d3.line().x(d => x(d[0])).y(d => y(d[1])))
  .attr("fill", "none").attr("stroke", "#e6e24a").attr("stroke-width", 1.3);
hline(gainInner, "#9ede74", 1.2);

// probes
const allProbes = [].concat(probesA, probesB, probesC, probesD, probesDcore);
svg.append("g").attr("clip-path", "url(#plotClip)")
  .selectAll("circle").data(allProbes).join("circle")
  .attr("cx", d => x(windowStartMb + d[0] / 1000)).attr("cy", d => y(d[1]))
  .attr("r", 1.75).attr("fill", "#3e3ee8");

// segment means
svg.append("g").selectAll("line").data(segMeans).join("line")
  .attr("x1", (d, i) => x(segStarts[i])).attr("x2", (d, i) => x(segEnds[i]))
  .attr("y1", d => y(d)).attr("y2", d => y(d))
  .attr("stroke", "#151515").attr("stroke-width", 2.6);

// frame
svg.append("path")
  .attr("d", `M${plot.left},${plot.top}H${plot.right}V${plot.bottom}`)
  .attr("fill", "none").attr("stroke", "#8a8a8a").attr("stroke-width", 1);

// axes
const yAxis = d3.axisLeft(y).tickValues(yTickValues).tickSize(4).tickPadding(4)
  .tickFormat((d, i) => yTickLabels[i]);
const gy = svg.append("g").attr("transform", `translate(${plot.left},0)`).call(yAxis);
const xAxis = d3.axisBottom(x).tickValues(xTickValues).tickSize(4).tickPadding(4)
  .tickFormat((d, i) => xTickLabels[i]);
const gx = svg.append("g").attr("transform", `translate(0,${plot.bottom})`).call(xAxis);
[gx, gy].forEach(g => {
  g.select(".domain").attr("stroke", "#333");
  g.selectAll(".tick line").attr("stroke", "#333");
  g.selectAll("text").attr("font-family", uiFont).attr("font-size", 7.5).attr("fill", "#333");
});
</script>
</body></html>
